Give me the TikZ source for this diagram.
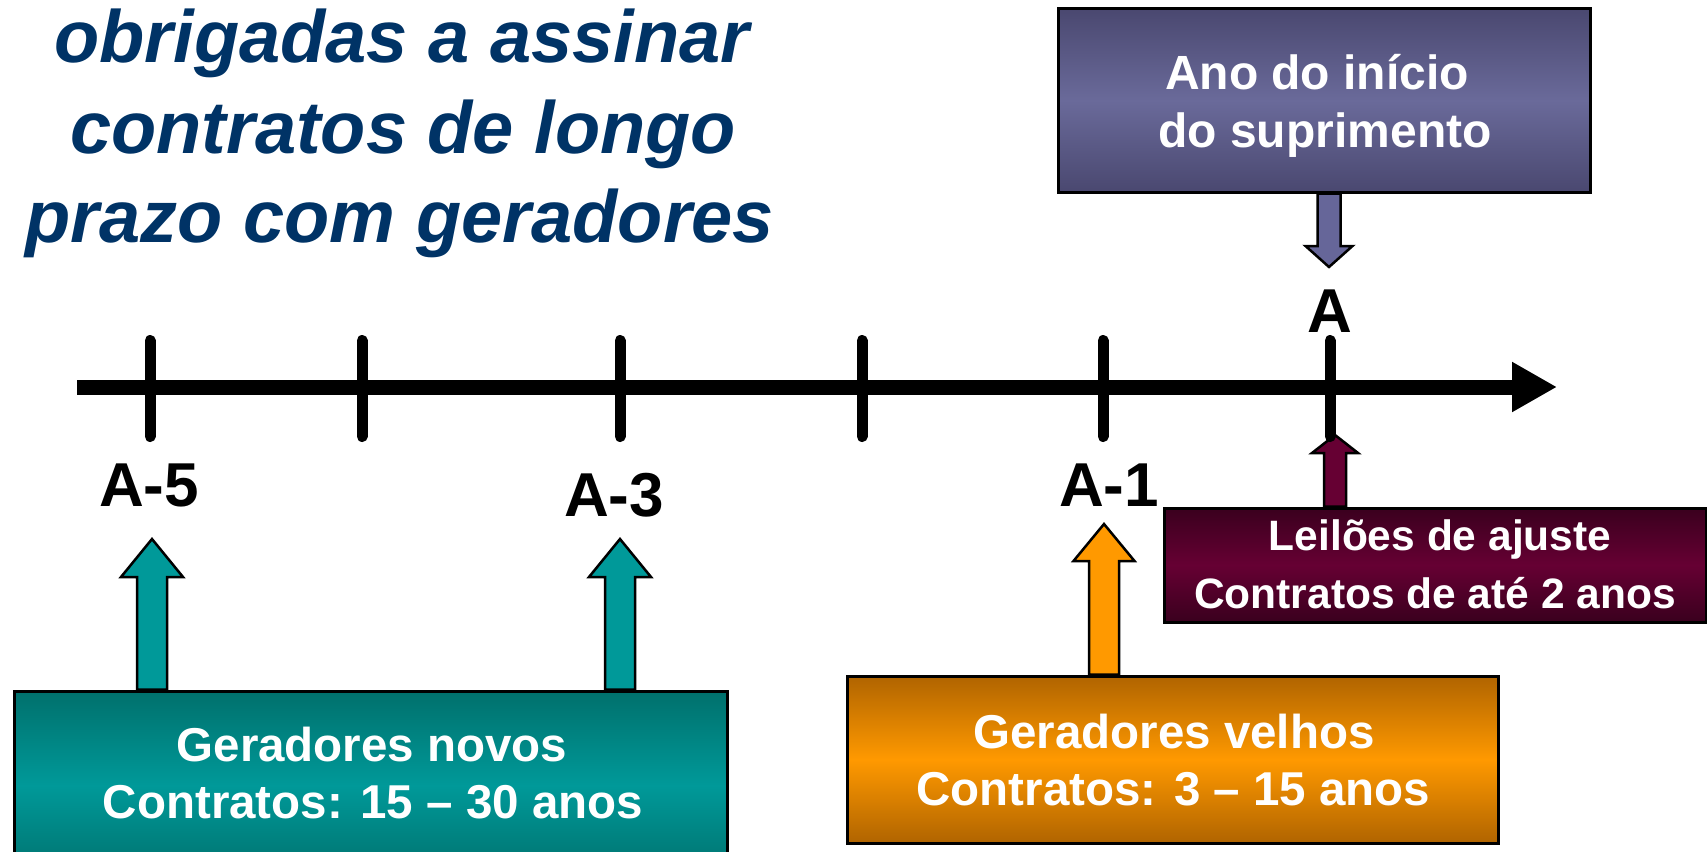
\documentclass[tikz,border=0pt]{standalone}
\usepackage{fontspec}
\setmainfont{Liberation Sans}
\usetikzlibrary{arrows.meta,calc,backgrounds}
\definecolor{titleblue}{RGB}{0,51,102}
\definecolor{purpdark}{RGB}{74,72,112}
\definecolor{purplight}{RGB}{106,106,154}
\definecolor{purparrow}{RGB}{102,102,153}
\definecolor{marondark}{RGB}{58,0,30}
\definecolor{maronlight}{RGB}{102,0,51}
\definecolor{tealdark}{RGB}{0,112,108}
\definecolor{teallight}{RGB}{0,153,153}
\definecolor{orangedark}{RGB}{176,100,0}
\definecolor{orangelight}{RGB}{255,153,0}
\newcommand\blockarrow[6]{%
  \draw[arrowline, fill=#6] ($(#1)+(-#3,0)$) -- ($(#2)+(-#3,#5)$) -- ($(#2)+(-#4,#5)$) -- (#2)
    -- ($(#2)+(#4,#5)$) -- ($(#2)+(#3,#5)$) -- ($(#1)+(#3,0)$) -- cycle;}
\begin{document}
\begin{tikzpicture}[x=1pt,y=-1pt,
  box/.style={draw=black, line width=3pt, inner sep=0pt},
  arrowline/.style={draw=black, line width=2.5pt, line join=miter},
  boxtext/.style={text=white, inner sep=0pt, anchor=base},
  ticklabel/.style={text=black, inner sep=0pt, anchor=base, font=\fontsize{62}{62}\selectfont\bfseries},
  titletext/.style={text=titleblue, inner sep=0pt, anchor=base, font=\fontsize{74}{90}\selectfont\bfseries\itshape},
  tickmark/.style={line width=11pt, line cap=round},
  axisline/.style={line width=15pt, -{Triangle[length=45pt,width=47pt]}}]
\useasboundingbox (0,0) rectangle (1707,851);

% title
\node[titletext] (title1) at (402,63) {obrigadas a assinar};
\node[titletext] (title2) at (403,153) {contratos de longo};
\node[titletext] (title3) at (400,242) {prazo com geradores};

% boxes
\node[box, top color=purpdark, bottom color=purpdark, middle color=purplight,
      minimum width=532pt, minimum height=183pt] (supbox) at (1324,100.5) {};
\node[box, top color=marondark, bottom color=marondark, middle color=maronlight,
      minimum width=542pt, minimum height=114pt] (ajbox) at (1435,565) {};
\node[box, top color=tealdark, bottom color=tealdark, middle color=teallight,
      minimum width=713pt, minimum height=189pt] (newbox) at (370.5,785.5) {};
\node[box, top color=orangedark, bottom color=orangedark, middle color=orangelight,
      minimum width=651pt, minimum height=167pt] (oldbox) at (1172.5,759.5) {};

% axis and ticks
\coordinate (axstart) at (77,387);
\coordinate (axend) at (1557,387);
\draw[axisline] (axstart) -- (axend);
\coordinate (t5) at (150,387);
\coordinate (t4) at (362,387);
\coordinate (t3) at (620,387);
\coordinate (t2) at (862,387);
\coordinate (t1) at (1103,387);
\coordinate (t0) at (1330,387);
\foreach \t in {t5,t4,t3,t2,t1,t0}
  \draw[tickmark] ($(\t)+(0,-46.5)$) -- ($(\t)+(0,49.5)$);

% block arrows
\coordinate (tipn5) at (152,539);
\coordinate (basen5) at (tipn5 |- newbox.north);
\coordinate (tipn3) at (620,539);
\coordinate (basen3) at (tipn3 |- newbox.north);
\coordinate (tipo) at (1104,524);
\coordinate (baseo) at (tipo |- oldbox.north);
\coordinate (tipa) at (1335,435);
\coordinate (basea) at (tipa |- ajbox.north);
\coordinate (tips) at (1329,267);
\coordinate (bases) at (tips |- supbox.south);
\begin{scope}[on background layer]
\blockarrow{basen5}{tipn5}{15}{31}{38}{teallight}
\blockarrow{basen3}{tipn3}{15}{31}{38}{teallight}
\blockarrow{baseo}{tipo}{15}{30.5}{37}{orangelight}
\blockarrow{basea}{tipa}{11}{23}{18}{maronlight}
\blockarrow{bases}{tips}{11.5}{23.5}{-21}{purparrow}
\end{scope}

% tick labels
\node[ticklabel] (l5) at (149,506) {A-5};
\node[ticklabel] (l3) at (614,516) {A-3};
\node[ticklabel] (l1) at (1109,506) {A-1};
\node[ticklabel] (l0) at (1330,332) {A};

% box texts
\node[boxtext, font=\fontsize{48}{58}\selectfont\bfseries] (sup1) at (1317,89) {Ano do início};
\node[boxtext, font=\fontsize{48}{58}\selectfont\bfseries] (sup2) at (1325,147) {do suprimento};
\node[boxtext, font=\fontsize{42.5}{58}\selectfont\bfseries] (aj1) at (1440,550) {Leilões de ajuste};
\node[boxtext, font=\fontsize{42.5}{58}\selectfont\bfseries] (aj2) at (1435,608) {Contratos de até 2 anos};
\node[boxtext, font=\fontsize{47.5}{57}\selectfont\bfseries] (new1) at (372,761) {Geradores novos};
\node[boxtext, font=\fontsize{47.5}{57}\selectfont\bfseries] (new2) at (373,818) {Contratos: 15 – 30 anos};
\node[boxtext, font=\fontsize{47.5}{57}\selectfont\bfseries] (old1) at (1174,748) {Geradores velhos};
\node[boxtext, font=\fontsize{47.5}{57}\selectfont\bfseries] (old2) at (1173.5,805) {Contratos: 3 – 15 anos};
\end{tikzpicture}
\end{document}
